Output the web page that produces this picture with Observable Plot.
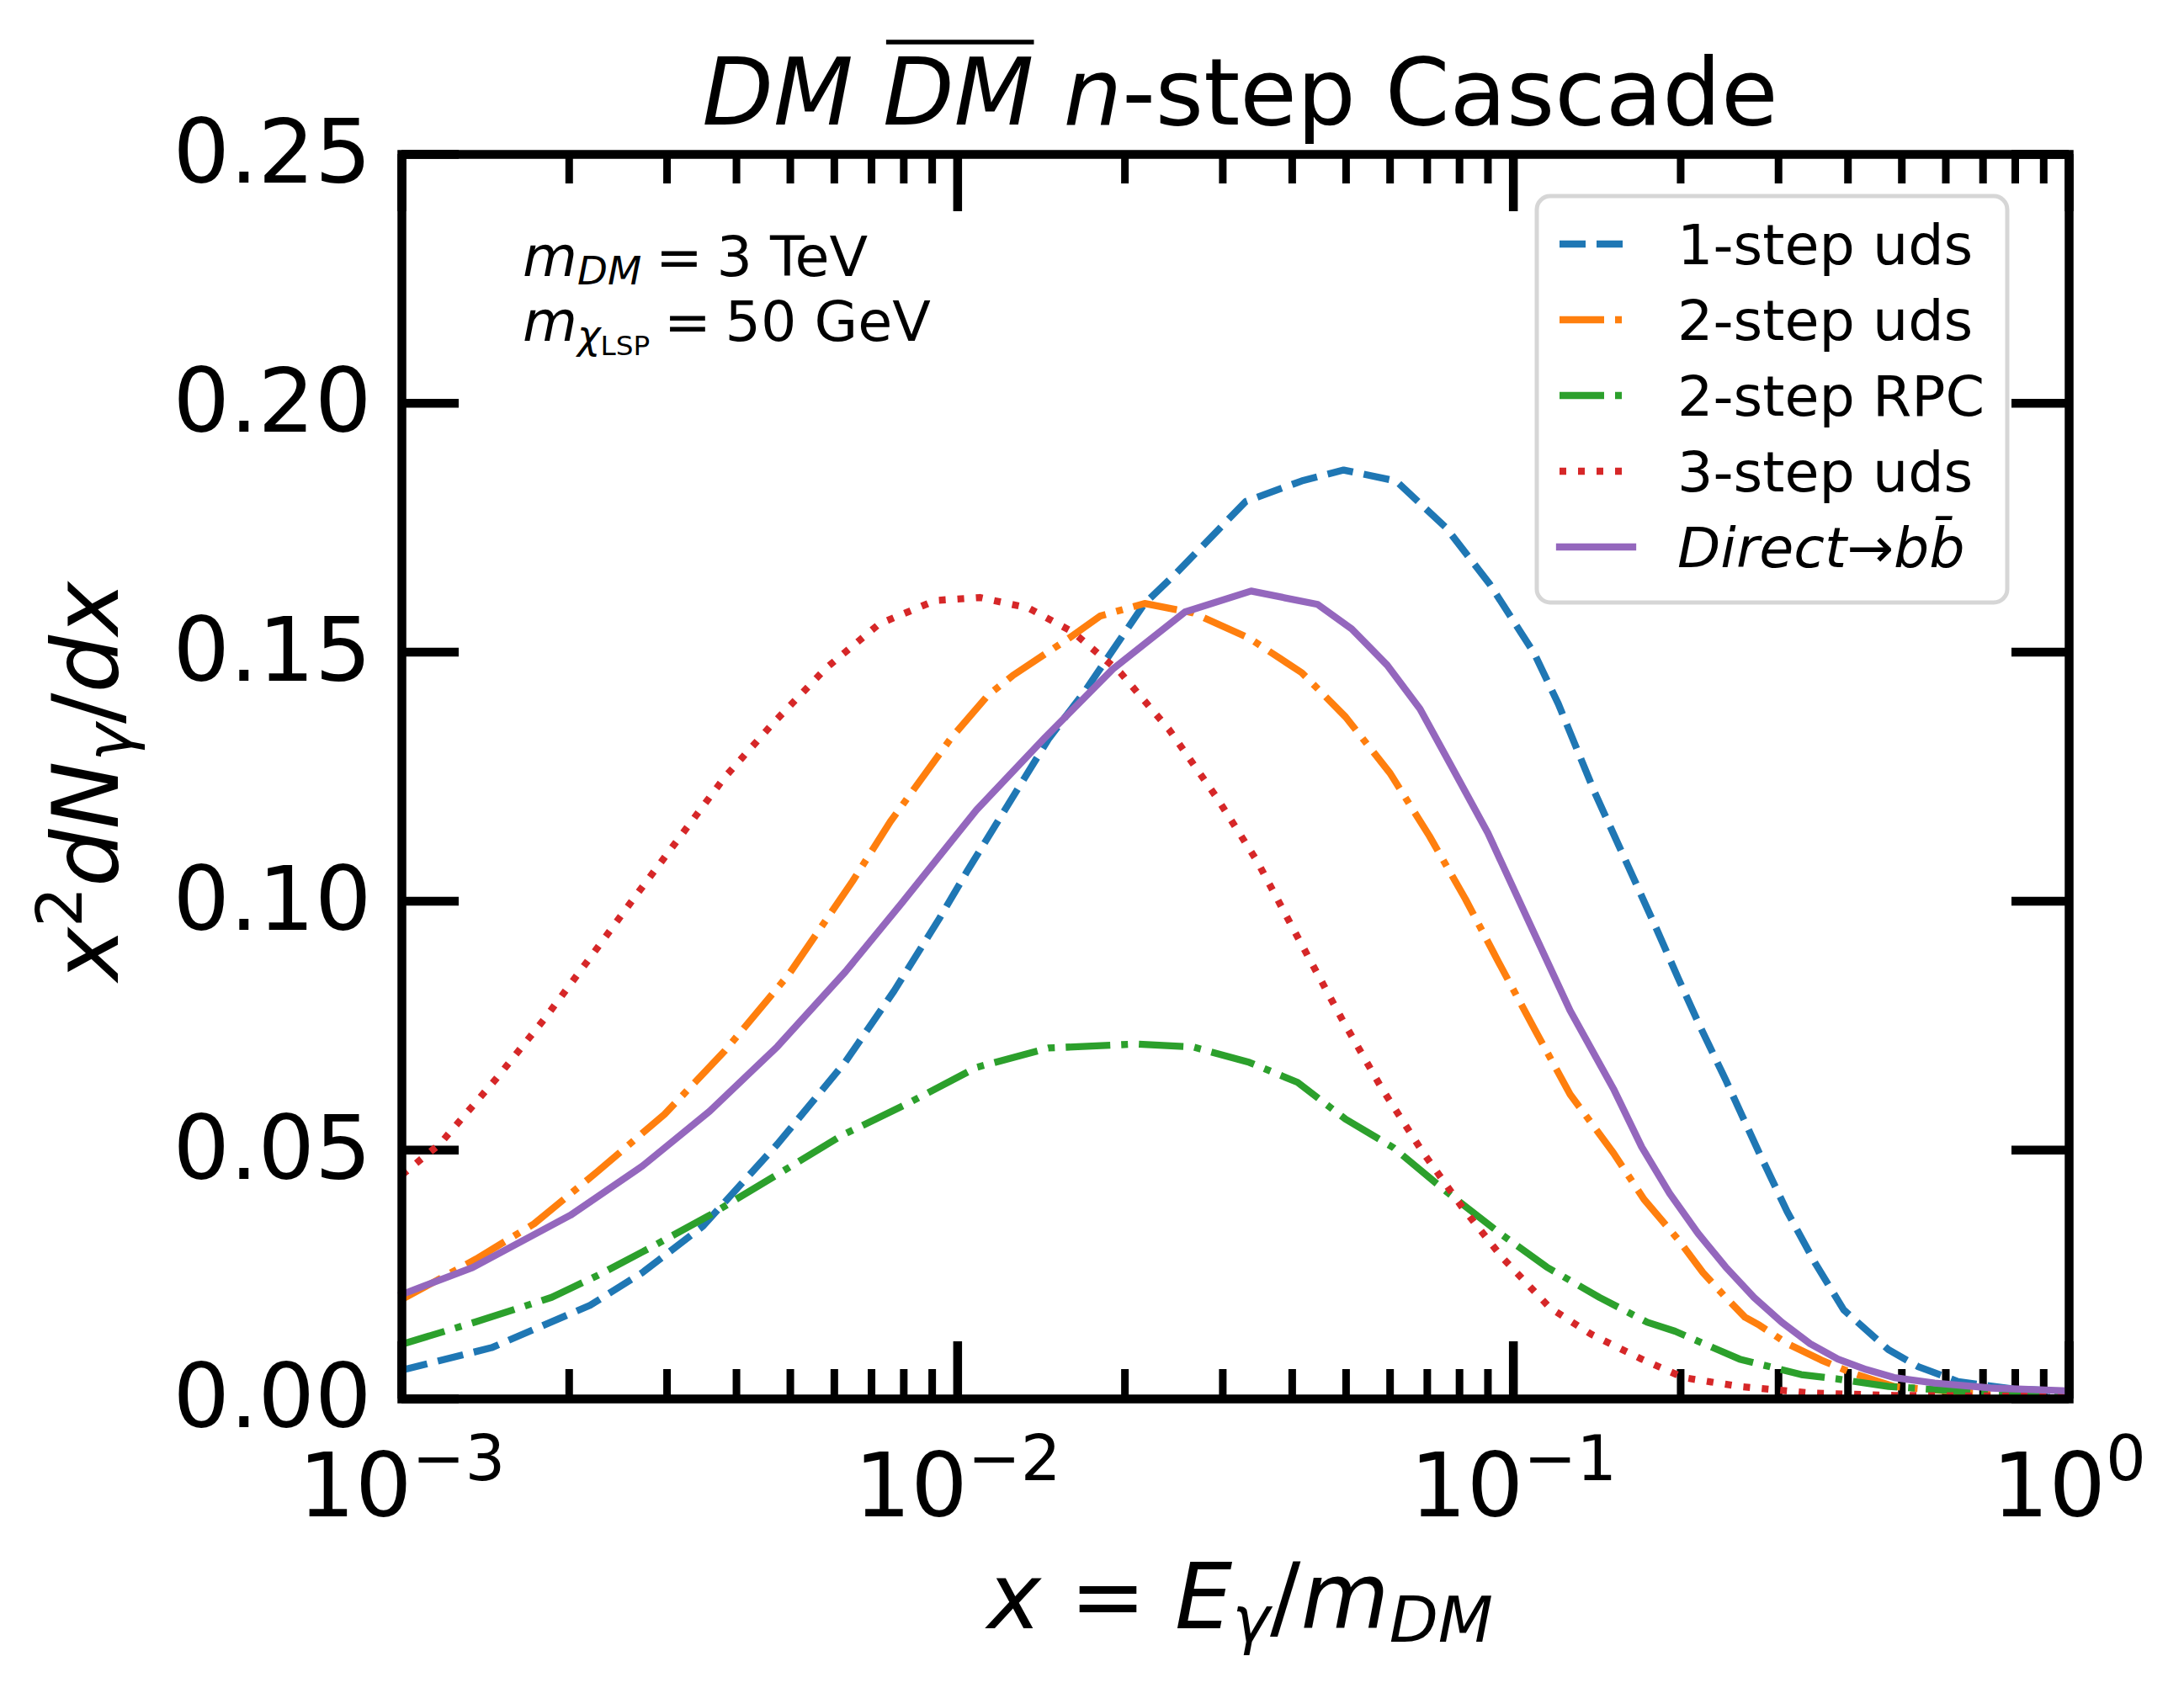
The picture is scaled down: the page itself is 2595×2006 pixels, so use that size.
<!DOCTYPE html>
<html>
<head>
<meta charset="utf-8">
<script src="https://cdn.jsdelivr.net/npm/d3@7"></script>
<script src="https://cdn.jsdelivr.net/npm/@observablehq/plot@0.6"></script>
<style>
  html, body { margin: 0; padding: 0; background: #ffffff; }
  svg { display: block; }
</style>
</head>
<body>
<div id="chart"></div>
<script>
// ---------------- data ----------------
const seriesNames = ["1-step uds", "2-step uds", "2-step RPC", "3-step uds", "Direct→bb̄"];

const x1stepUds = [0.001, 0.00145, 0.00218, 0.00271, 0.00348, 0.00474, 0.00628, 0.00769, 0.00927, 0.0104, 0.0146, 0.0169, 0.0217, 0.0248, 0.0330, 0.0416, 0.0495, 0.0615, 0.0757, 0.0908, 0.109, 0.1205, 0.140, 0.180, 0.198, 0.217, 0.241, 0.277, 0.311, 0.350, 0.393, 0.473, 0.535, 0.631, 0.794, 1.0];
const y1stepUds = [0.0058, 0.0103, 0.0188, 0.0254, 0.0347, 0.0512, 0.0677, 0.0820, 0.0965, 0.1060, 0.1327, 0.1420, 0.1598, 0.1660, 0.1803, 0.1844, 0.1866, 0.1844, 0.1750, 0.1636, 0.1498, 0.1396, 0.1219, 0.0950, 0.0845, 0.0747, 0.0641, 0.0494, 0.0376, 0.0271, 0.0179, 0.0099, 0.0065, 0.0035, 0.0020, 0.0015];

const x2stepUds = [0.001, 0.00136, 0.00173, 0.00225, 0.00297, 0.00381, 0.00497, 0.00647, 0.00757, 0.00971, 0.01135, 0.01256, 0.01585, 0.01807, 0.0217, 0.02655, 0.0335, 0.0416, 0.0499, 0.0600, 0.0706, 0.0820, 0.0940, 0.1089, 0.1265, 0.1514, 0.1718, 0.1977, 0.2193, 0.2410, 0.2612, 0.2773, 0.3112, 0.3581, 0.4074, 0.4842, 0.631, 1.0];
const y2stepUds = [0.0200, 0.0281, 0.0352, 0.0457, 0.0572, 0.0699, 0.0853, 0.1040, 0.1160, 0.1326, 0.1414, 0.1453, 0.1528, 0.1573, 0.1598, 0.1579, 0.1528, 0.1459, 0.1370, 0.1257, 0.1131, 0.1004, 0.0878, 0.0745, 0.0612, 0.0494, 0.0401, 0.0321, 0.0254, 0.0204, 0.0164, 0.0148, 0.0111, 0.0078, 0.0052, 0.0025, 0.0014, 0.0012];

const x2stepRpc = [0.001, 0.00136, 0.00186, 0.00225, 0.00279, 0.00358, 0.00474, 0.00618, 0.00805, 0.01081, 0.01456, 0.0210, 0.02655, 0.0335, 0.0409, 0.0499, 0.0608, 0.0745, 0.0940, 0.1148, 0.1429, 0.1742, 0.1954, 0.2553, 0.3296, 0.3837, 0.4732, 0.631, 1.0];
const y2stepRpc = [0.0110, 0.0155, 0.0204, 0.0248, 0.0303, 0.0369, 0.0451, 0.0529, 0.0591, 0.0666, 0.0705, 0.0713, 0.0707, 0.0676, 0.0636, 0.0562, 0.0505, 0.0423, 0.0335, 0.0265, 0.0204, 0.0154, 0.0136, 0.0080, 0.0049, 0.0040, 0.0025, 0.0016, 0.0012];

const x3stepUds = [0.001, 0.00117, 0.00148, 0.00181, 0.00218, 0.00262, 0.00316, 0.00381, 0.00467, 0.00581, 0.00723, 0.00912, 0.01096, 0.0134, 0.0161, 0.01963, 0.0240, 0.0293, 0.0346, 0.0409, 0.0491, 0.0579, 0.0684, 0.0809, 0.0955, 0.1164, 0.138, 0.1702, 0.2023, 0.2553, 0.3420, 0.4842, 1.0];
const y3stepUds = [0.0450, 0.0512, 0.0644, 0.0765, 0.0886, 0.1007, 0.1128, 0.1249, 0.1359, 0.1469, 0.1557, 0.1604, 0.1610, 0.1589, 0.1541, 0.1459, 0.1345, 0.1207, 0.1080, 0.0928, 0.0764, 0.0625, 0.0499, 0.0385, 0.0284, 0.0183, 0.0130, 0.0080, 0.0043, 0.0025, 0.0012, 0.0007, 0.0005];

const xDirectBb = [0.001, 0.00134, 0.00201, 0.00271, 0.00358, 0.00474, 0.00628, 0.00793, 0.01081, 0.01432, 0.01901, 0.02565, 0.03373, 0.04446, 0.05117, 0.05929, 0.06792, 0.07691, 0.08995, 0.1072, 0.1265, 0.1514, 0.1702, 0.1910, 0.2148, 0.2410, 0.2710, 0.3041, 0.3420, 0.3837, 0.4315, 0.4842, 0.5728, 0.7211, 1.0];
const yDirectBb = [0.0210, 0.0264, 0.0369, 0.0468, 0.0578, 0.0708, 0.0858, 0.0996, 0.1183, 0.1327, 0.1466, 0.1581, 0.1623, 0.1596, 0.1547, 0.1474, 0.1386, 0.1276, 0.1137, 0.0953, 0.0780, 0.0623, 0.0506, 0.0413, 0.0333, 0.0265, 0.0204, 0.0154, 0.0111, 0.0080, 0.0059, 0.0043, 0.0032, 0.0022, 0.0016];

const xMajorTicks = [0.001, 0.01, 0.1, 1];
const xMinorTicks = [0.002, 0.003, 0.004, 0.005, 0.006, 0.007, 0.008, 0.009,
                     0.02, 0.03, 0.04, 0.05, 0.06, 0.07, 0.08, 0.09,
                     0.2, 0.3, 0.4, 0.5, 0.6, 0.7, 0.8, 0.9];
const yMajorTicks = [0, 0.05, 0.10, 0.15, 0.20, 0.25];

// ---------------- styles ----------------
const seriesX = [x1stepUds, x2stepUds, x2stepRpc, x3stepUds, xDirectBb];
const seriesY = [y1stepUds, y2stepUds, y2stepRpc, y3stepUds, yDirectBb];
const seriesColor = ["#1f77b4", "#ff7f0e", "#2ca02c", "#d62728", "#9467bd"];
const seriesDash = ["31,13", "53,13,8,13", "53,13,8,13", "8,14", null];

const W = 2595, H = 2006;
const mL = 477, mR = 137, mT = 183, mB = 344;
const fw = W - mL - mR, fh = H - mT - mB;
const lw = 8.3;
const spineW = 10.5;
const majorLen = 68, minorLen = 35;

const lineMarks = seriesNames.map((name, i) => {
  const rows = seriesX[i].map((x, j) => ({x, y: seriesY[i][j]}));
  return Plot.line(rows, {
    x: "x", y: "y",
    stroke: seriesColor[i],
    strokeWidth: lw,
    strokeDasharray: seriesDash[i] ?? undefined,
    strokeLinecap: seriesDash[i] ? "butt" : "square",
    strokeLinejoin: "round"
  });
});

const chart = Plot.plot({
  width: W, height: H,
  marginLeft: mL, marginRight: mR, marginTop: mT, marginBottom: mB,
  x: {type: "log", domain: [1e-3, 1], axis: null},
  y: {domain: [0, 0.25], axis: null},
  style: {fontFamily: "DejaVu Sans", background: "#ffffff", color: "#000000", overflow: "visible"},
  marks: [
    Plot.tickX(xMajorTicks, {x: d => d, insetTop: fh - majorLen, stroke: "#000", strokeWidth: spineW}),
    Plot.tickX(xMajorTicks, {x: d => d, insetBottom: fh - majorLen, stroke: "#000", strokeWidth: spineW}),
    Plot.tickX(xMinorTicks, {x: d => d, insetTop: fh - minorLen, stroke: "#000", strokeWidth: 9}),
    Plot.tickX(xMinorTicks, {x: d => d, insetBottom: fh - minorLen, stroke: "#000", strokeWidth: 9}),
    Plot.tickY(yMajorTicks, {y: d => d, insetRight: fw - majorLen, stroke: "#000", strokeWidth: spineW}),
    Plot.tickY(yMajorTicks, {y: d => d, insetLeft: fw - majorLen, stroke: "#000", strokeWidth: spineW}),
    ...lineMarks,
    Plot.frame({stroke: "#000", strokeWidth: spineW}),
    Plot.axisX({ticks: xMajorTicks, tickSize: 0, tickPadding: 64, fontSize: 106, label: null,
                tickFormat: d => String(Math.round(Math.log10(d)))}),
    Plot.axisY({ticks: yMajorTicks, tickSize: 0, tickPadding: 36, fontSize: 106, label: null,
                tickFormat: d3.format(".2f")})
  ]
});

document.getElementById("chart").appendChild(chart);
const svg = d3.select(chart);

// x tick labels as 10^k
svg.selectAll("g").filter(function() {
  const a = this.getAttribute("aria-label") || "";
  return a.includes("x-axis") && a.includes("label");
}).selectAll("text").each(function() {
  const exp = this.textContent.replace("-", "−");
  const t = d3.select(this);
  t.text("");
  t.append("tspan").text("10");
  t.append("tspan").attr("font-size", "71%").attr("dy", -43).text(exp);
});

const ink = "#000000";

// Title
const title = svg.append("text")
  .attr("x", mL + fw / 2 + 6).attr("y", 148)
  .attr("text-anchor", "middle").attr("font-size", 110).attr("fill", ink);
title.append("tspan").attr("font-style", "italic").text("DM");
title.append("tspan").text(" ");
title.append("tspan").attr("font-style", "italic").text("DM");
title.append("tspan").text(" ");
title.append("tspan").attr("font-style", "italic").text("n");
title.append("tspan").text("-step Cascade");
{
  const node = title.node();
  const a = node.getExtentOfChar(3), b = node.getExtentOfChar(4);
  svg.append("line")
    .attr("x1", a.x + 4).attr("x2", b.x + b.width)
    .attr("y1", 50).attr("y2", 50)
    .attr("stroke", ink).attr("stroke-width", 5.5);
}

// x label
const xl = svg.append("text")
  .attr("x", mL + fw / 2 + 6).attr("y", 1935)
  .attr("text-anchor", "middle").attr("font-size", 108).attr("fill", ink);
xl.append("tspan").attr("font-style", "italic").text("x");
xl.append("tspan").text(" = ");
xl.append("tspan").attr("font-style", "italic").text("E");
xl.append("tspan").attr("font-style", "italic").attr("font-size", "70%").attr("dy", 16).text("γ");
xl.append("tspan").attr("dy", -16).text("/");
xl.append("tspan").attr("font-style", "italic").text("m");
xl.append("tspan").attr("font-style", "italic").attr("font-size", "70%").attr("dy", 16).text("DM");

// y label
const yl = svg.append("text")
  .attr("transform", `translate(140, ${mT + fh / 2 + 6}) rotate(-90)`)
  .attr("text-anchor", "middle").attr("font-size", 108).attr("fill", ink);
yl.append("tspan").attr("font-style", "italic").text("x");
yl.append("tspan").attr("font-size", "70%").attr("dy", -43).text("2");
yl.append("tspan").attr("font-style", "italic").attr("dy", 43).text("dN");
yl.append("tspan").attr("font-style", "italic").attr("font-size", "70%").attr("dy", 16).text("γ");
yl.append("tspan").attr("dy", -16).text("/");
yl.append("tspan").attr("font-style", "italic").text("dx");

// annotation
const a1 = svg.append("text").attr("x", 621).attr("y", 328)
  .attr("text-anchor", "start").attr("font-size", 66.7).attr("fill", ink);
a1.append("tspan").attr("font-style", "italic").text("m");
a1.append("tspan").attr("font-style", "italic").attr("font-size", "70%").attr("dy", 10).text("DM");
a1.append("tspan").attr("dy", -10).text("\u2005=\u20053 TeV");
const a2 = svg.append("text").attr("x", 621).attr("y", 405)
  .attr("text-anchor", "start").attr("font-size", 66.7).attr("fill", ink);
a2.append("tspan").attr("font-style", "italic").text("m");
a2.append("tspan").attr("font-style", "italic").attr("font-size", "70%").attr("dy", 9).text("χ");
a2.append("tspan").attr("font-size", "49%").attr("dy", 8).text("LSP");
a2.append("tspan").attr("dy", -17).text("\u2005=\u200550 GeV");

// legend
const lg = svg.append("g");
lg.append("rect")
  .attr("x", 1826).attr("y", 233).attr("width", 559).attr("height", 483).attr("rx", 16)
  .attr("fill", "#ffffff").attr("fill-opacity", 0.8)
  .attr("stroke", "#cccccc").attr("stroke-opacity", 0.8).attr("stroke-width", 5);
seriesNames.forEach((name, i) => {
  const yy = 290 + i * 90;
  lg.append("line")
    .attr("x1", 1853).attr("x2", 1940).attr("y1", yy).attr("y2", yy)
    .attr("stroke", seriesColor[i]).attr("stroke-width", lw)
    .attr("stroke-dasharray", seriesDash[i])
    .attr("stroke-linecap", seriesDash[i] ? "butt" : "square");
  const t = lg.append("text").attr("x", 1993).attr("y", yy + 24)
    .attr("text-anchor", "start").attr("font-size", 66.7).attr("fill", ink);
  if (i === 4) {
    t.append("tspan").attr("font-style", "italic").text("Direct");
    t.append("tspan").text("→");
    t.append("tspan").attr("font-style", "italic").text("bb̄");
  } else {
    t.text(name);
  }
});
</script>
</body>
</html>
